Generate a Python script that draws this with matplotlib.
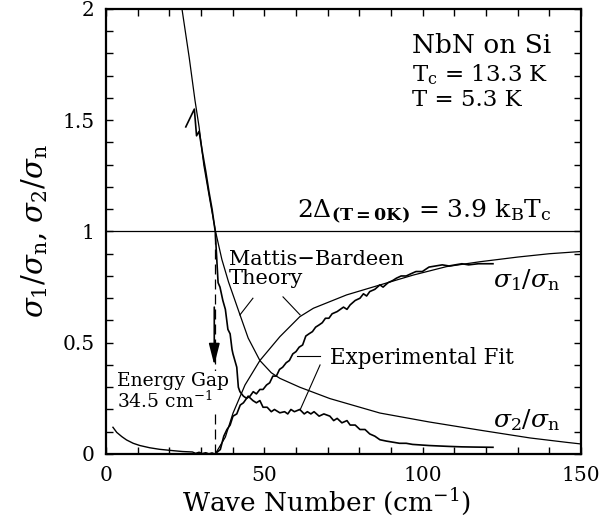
import matplotlib
matplotlib.use('Agg')
import matplotlib.pyplot as plt
from matplotlib.ticker import MultipleLocator, FixedLocator

plt.rcParams['font.family'] = 'DejaVu Serif'
plt.rcParams['mathtext.fontset'] = 'dejavuserif'

# Mattis-Bardeen theory curves
mb_s1_x = [34.5, 37.7, 40.1, 43.9, 48.6, 54.9, 61.2, 65.5, 76.0, 86.6, 97.0, 107.5, 118.1, 130, 140, 150]
mb_s1_y = [0.0, 0.076, 0.183, 0.31, 0.42, 0.527, 0.617, 0.655, 0.715, 0.76, 0.804, 0.842, 0.864, 0.885, 0.90, 0.91]

mb_s2_x = [24.0, 26.3, 28.1, 29.4, 30.9, 32.8, 34.6, 36.6, 38.7, 42.4, 44.9, 48.6, 52.2, 54.9, 61.2,
           70.7, 86.5, 102.0, 118.1, 133.9, 145.6, 150]
mb_s2_y = [2.0, 1.78, 1.59, 1.47, 1.298, 1.142, 1.0, 0.874, 0.773, 0.622, 0.521, 0.42, 0.365, 0.34, 0.30,
           0.249, 0.184, 0.144, 0.107, 0.072, 0.052, 0.045]

# Experimental fit curves
ex_s1_x = [34.4, 36.1, 37.2, 38.2, 39.2, 40.1, 41.3, 42.4, 43.4, 44.4, 45.5, 46.5, 47.5, 48.6, 49.6,
           50.7, 51.7, 52.7, 53.8, 54.8, 55.8, 56.9, 57.9, 59.0, 60.0, 61.0, 62.1, 63.1, 64.1, 65.2,
           66.2, 67.3, 68.3, 69.3, 70.4, 71.4, 73.0, 74.0, 75.0, 76.1, 77.1, 78.7, 80.2, 81.3, 82.3,
           83.3, 84.9, 86.5, 87.5, 89.1, 90.6, 91.7, 93.2, 94.8, 96.3, 97.9, 99.9, 102.0, 104.1, 106.2,
           108.3, 110.3, 112.4, 114.5, 117.6, 122.2]
ex_s1_y = [0.0, 0.02, 0.08, 0.11, 0.13, 0.17, 0.18, 0.22, 0.23, 0.25, 0.26, 0.28, 0.27, 0.29, 0.29,
           0.31, 0.32, 0.35, 0.35, 0.38, 0.39, 0.41, 0.42, 0.45, 0.46, 0.48, 0.49, 0.53, 0.54, 0.55,
           0.57, 0.58, 0.59, 0.61, 0.61, 0.63, 0.64, 0.65, 0.66, 0.65, 0.67, 0.69, 0.70, 0.72, 0.71,
           0.73, 0.74, 0.76, 0.75, 0.77, 0.78, 0.79, 0.80, 0.80, 0.81, 0.82, 0.82, 0.84, 0.845, 0.85,
           0.845, 0.85, 0.855, 0.85, 0.855, 0.855]

ex_s2_x = [25.2, 27.9, 28.6, 29.4, 30.4, 31.5, 32.5, 33.5, 34.5, 35.4, 36.0, 36.9, 37.7, 38.5, 39.2,
           39.8, 40.1, 41.3, 41.8, 42.3, 43.4, 44.4, 44.9, 46.4, 47.5, 48.6, 49.6, 50.9, 52.2, 53.2,
           54.9, 56.4, 57.4, 58.4, 59.5, 61.2, 62.6, 63.6, 64.7, 65.7, 67.3, 68.8, 70.7, 71.9, 73.0,
           74.5, 76.1, 77.1, 78.7, 80.2, 81.8, 83.3, 84.9, 86.5, 88.5, 90.6, 92.7, 94.8, 96.8, 98.9,
           102.0, 105.1, 108.3, 112.4, 116.6, 122.2]
ex_s2_y = [1.47, 1.55, 1.43, 1.45, 1.36, 1.27, 1.18, 1.10, 1.0, 0.77, 0.75, 0.69, 0.65, 0.56, 0.54,
           0.47, 0.45, 0.39, 0.30, 0.28, 0.26, 0.25, 0.26, 0.24, 0.23, 0.24, 0.21, 0.21, 0.19, 0.20,
           0.185, 0.19, 0.18, 0.20, 0.19, 0.20, 0.18, 0.19, 0.18, 0.19, 0.17, 0.18, 0.17, 0.15, 0.16,
           0.14, 0.15, 0.13, 0.13, 0.11, 0.11, 0.09, 0.08, 0.064, 0.058, 0.053, 0.048, 0.048, 0.043, 0.041,
           0.038, 0.036, 0.034, 0.032, 0.031, 0.03]

# low-frequency tail below the gap
low_x = [2.2, 3.4, 5.0, 6.5, 8.6, 10.7, 13.8, 16.9, 21.1, 24.2, 27.3, 28.3, 29.4, 30.4, 31.5, 32.5, 33.5, 34.4]
low_y = [0.12, 0.097, 0.078, 0.063, 0.048, 0.038, 0.028, 0.021, 0.015, 0.011, 0.009, 0.003, 0.008, 0.002,
         0.006, 0.001, 0.005, 0.0]

gap = 34.5

fig = plt.figure(figsize=(6.08, 5.16), dpi=100)
ax = fig.add_axes([0.1743, 0.1202, 0.7813, 0.8624])

ax.axhline(1.0, color='black', lw=0.9)
ax.plot(mb_s1_x, mb_s1_y, color='black', lw=0.9)
ax.plot(mb_s2_x, mb_s2_y, color='black', lw=0.9)
ax.plot(ex_s1_x, ex_s1_y, color='black', lw=1.2)
ax.plot(ex_s2_x, ex_s2_y, color='black', lw=1.2)
ax.plot(low_x, low_y, color='black', lw=1.0)

# energy gap marker
ax.plot([gap, gap], [0, 1.0], color='black', lw=0.9, dashes=(8, 4))
ax.annotate('', xy=(gap - 0.3, 0.40), xytext=(gap - 0.3, 0.66),
            arrowprops=dict(arrowstyle='-|>,head_length=1.3,head_width=0.33', color='black',
                            lw=1.2, mutation_scale=10, shrinkA=0, shrinkB=0))

# leader lines
ax.plot([46.4, 42.3], [0.70, 0.625], color='black', lw=0.8)
ax.plot([55.9, 61.3], [0.706, 0.625], color='black', lw=0.8)
ax.plot([60.3, 67.6], [0.44, 0.44], color='black', lw=0.8)
ax.plot([67.6, 61.3], [0.40, 0.198], color='black', lw=0.8)

ax.text(3.5, 0.37, 'Energy Gap\n34.5 cm$^{-1}$', fontsize=13.5, va='top', ha='left', linespacing=1.05,
        bbox=dict(facecolor='white', edgecolor='none', pad=0.5))
ax.text(38.8, 0.915, 'Mattis\u2212Bardeen\nTheory', fontsize=15, va='top', ha='left', linespacing=0.95)
ax.text(70.7, 0.431, 'Experimental Fit', fontsize=15.5, va='center', ha='left')
ax.text(122.2, 0.782, r'$\sigma_1/\sigma_\mathrm{n}$', fontsize=18, va='center', ha='left')
ax.text(122.2, 0.153, r'$\sigma_2/\sigma_\mathrm{n}$', fontsize=18, va='center', ha='left')

ax.text(96.6, 1.834, 'NbN on Si', fontsize=19, va='center', ha='left')
ax.text(96.6, 1.703, 'T$_\\mathrm{c}$ = 13.3 K', fontsize=16.5, va='center', ha='left')
ax.text(96.6, 1.591, 'T = 5.3 K', fontsize=16.5, va='center', ha='left')
ax.text(140.8, 1.088, r'2$\Delta_{\mathbf{(T=0K)}}$ = 3.9 k$_\mathrm{B}$T$_\mathrm{c}$',
        fontsize=18, va='center', ha='right')

ax.set_xlim(0, 150)
ax.set_ylim(0, 2)
ax.xaxis.set_major_locator(FixedLocator([0, 50, 100, 150]))
ax.xaxis.set_minor_locator(MultipleLocator(10))
ax.yaxis.set_major_locator(FixedLocator([0, 0.5, 1, 1.5, 2]))
ax.yaxis.set_minor_locator(MultipleLocator(0.1))
ax.set_yticklabels(['0', '0.5', '1', '1.5', '2'])
ax.tick_params(which='both', direction='in', top=True, right=True, length=5, width=1)
ax.tick_params(axis='x', labelsize=14.5, pad=8.5)
ax.tick_params(axis='y', labelsize=14.5, pad=8)
for s in ax.spines.values():
    s.set_linewidth(1.6)

ax.set_xlabel('Wave Number (cm$^{-1}$)', fontsize=19)
ax.xaxis.set_label_coords(0.463, -0.073)
ax.set_ylabel(r'$\sigma_1/\sigma_\mathrm{n}$, $\sigma_2/\sigma_\mathrm{n}$', fontsize=21, labelpad=9)

fig.savefig('out.png', dpi=100)
